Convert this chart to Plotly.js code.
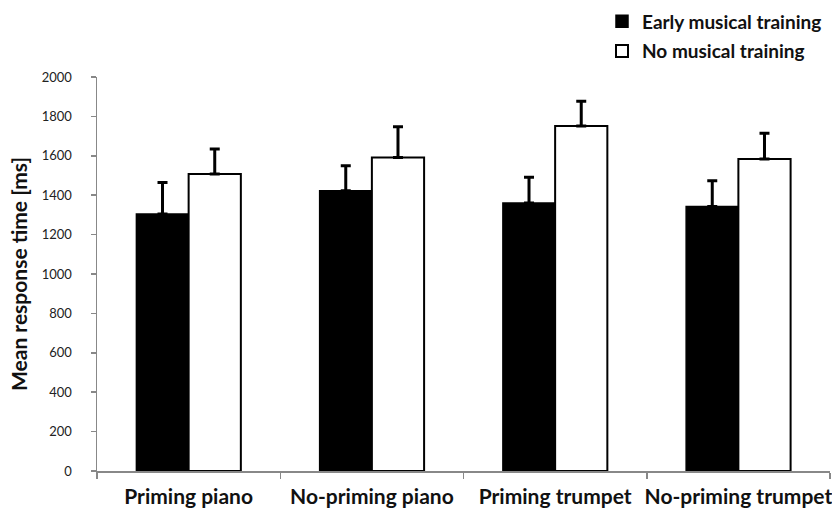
<!DOCTYPE html>
<html>
<head>
<meta charset="utf-8">
<script src="https://cdn.plot.ly/plotly-3.0.1.min.js"></script>
<style>html,body{margin:0;padding:0;background:#fff;}#chart{width:832px;height:516px;}</style>
</head>
<body>
<div id="chart"></div>
<script>
var categories = ["Priming piano", "No-priming piano", "Priming trumpet", "No-priming trumpet"];
var earlyTraining = [1305, 1423, 1360, 1343];
var earlyError = [160, 126, 131, 130];
var noTraining = [1507, 1591, 1751, 1584];
var noError = [127, 156, 126, 130];
var zeros = [0, 0, 0, 0];
var yTicks = [0, 200, 400, 600, 800, 1000, 1200, 1400, 1600, 1800, 2000];

var fontFam = "Lato, 'Liberation Sans', sans-serif";

var traces = [
  {
    type: "bar", name: "Early musical training", x: categories, y: earlyTraining,
    marker: {color: "#000000", line: {color: "#000000", width: 1.5}},
    error_y: {type: "data", symmetric: false, array: earlyError, arrayminus: zeros,
              color: "#000000", thickness: 3, width: 5},
    legend: "legend"
  },
  {
    type: "bar", name: "No musical training", x: categories, y: noTraining,
    marker: {color: "#ffffff", line: {color: "#000000", width: 2}},
    error_y: {type: "data", symmetric: false, array: noError, arrayminus: zeros,
              color: "#000000", thickness: 3, width: 5},
    legend: "legend2"
  }
];

var legendCommon = {
  xref: "paper", yref: "paper", xanchor: "left", yanchor: "middle",
  font: {family: fontFam, size: 19, color: "#111", weight: "bold"}, bgcolor: "rgba(0,0,0,0)",
  borderwidth: 0, itemwidth: 30
};

var layout = {
  width: 832, height: 516,
  margin: {l: 97, r: 2, t: 74, b: 45},
  paper_bgcolor: "#ffffff", plot_bgcolor: "#ffffff",
  barmode: "group", bargap: 0.43, bargroupgap: 0,
  font: {family: fontFam, color: "#111"},
  showlegend: true,
  legend: Object.assign({}, legendCommon, {x: (602 - 97) / 733, y: (471 - 18) / 397}),
  legend2: Object.assign({}, legendCommon, {x: (602 - 97) / 733, y: (471 - 48) / 397}),
  xaxis: {
    type: "category", tickson: "boundaries", ticks: "outside", ticklen: 6,
    tickcolor: "#888", tickwidth: 1.5, tickangle: 0,
    showline: true, linecolor: "#888", linewidth: 1.5,
    showgrid: false, zeroline: false,
    tickfont: {family: fontFam, size: 21, color: "#111", weight: "bold"},
    ticklabelstandoff: 6
  },
  yaxis: {
    range: [0, 2000], tickvals: yTicks, ticktext: yTicks.map(String),
    ticks: "outside", ticklen: 5, tickcolor: "#888", tickwidth: 1.5,
    showline: true, linecolor: "#888", linewidth: 1.5,
    showgrid: false, zeroline: false,
    tickfont: {family: fontFam, size: 13, color: "#222"},
    ticklabelstandoff: 16,
    title: {text: "Mean response time [ms]", standoff: 8,
            font: {family: fontFam, size: 21, color: "#111", weight: "bold"}}
  }
};

Plotly.newPlot("chart", traces, layout, {displayModeBar: false, staticPlot: true});
</script>
</body>
</html>
